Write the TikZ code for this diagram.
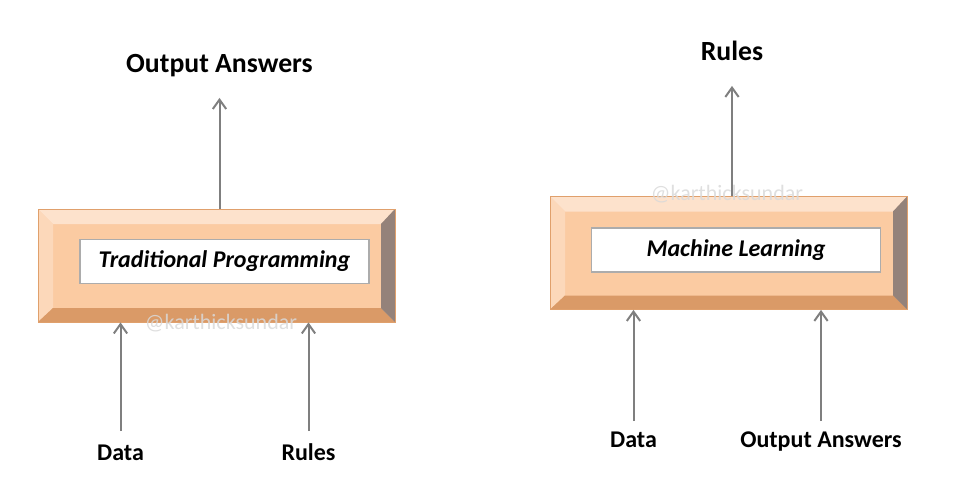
\documentclass[tikz,border=0pt]{standalone}
\usepackage{fontspec}
\setmainfont{Carlito}
\usetikzlibrary{arrows.meta}

\definecolor{bevface}{HTML}{FBCBA2}
\definecolor{bevtop}{HTML}{FDE2CC}
\definecolor{bevleft}{HTML}{FCD8BA}
\definecolor{bevbottom}{HTML}{DA9A67}
\definecolor{bevright}{HTML}{94827A}
\definecolor{bevedge}{HTML}{E0A06C}
\definecolor{arrowgray}{HTML}{7F7F7F}

\begin{document}
\begin{tikzpicture}[x=0.75pt, y=-0.75pt,
  panel/.style = {draw=bevedge, fill=bevface, line width=0.6pt, inner sep=0, minimum width=267.75pt, minimum height=84.75pt,
    path picture={
      \fill[bevtop] (path picture bounding box.north west) -- (path picture bounding box.north east) -- ([shift={(-14,15)}]path picture bounding box.north east) -- ([shift={(15,15)}]path picture bounding box.north west) -- cycle;
      \fill[bevleft] (path picture bounding box.north west) -- ([shift={(15,15)}]path picture bounding box.north west) -- ([shift={(15,-14)}]path picture bounding box.south west) -- (path picture bounding box.south west) -- cycle;
      \fill[bevbottom] (path picture bounding box.south west) -- ([shift={(15,-14)}]path picture bounding box.south west) -- ([shift={(-14,-14)}]path picture bounding box.south east) -- (path picture bounding box.south east) -- cycle;
      \fill[bevright] (path picture bounding box.north east) -- ([shift={(-14,15)}]path picture bounding box.north east) -- ([shift={(-14,-14)}]path picture bounding box.south east) -- (path picture bounding box.south east) -- cycle;
    }},
  tag/.style = {draw=gray!65, fill=white, line width=1pt, inner sep=0, minimum width=216.75pt, minimum height=33pt, font=\fontsize{18}{20}\selectfont\bfseries\itshape},
  toplbl/.style = {anchor=base, inner sep=0, text height=0pt, text depth=0pt, font=\fontsize{20.8}{24}\selectfont\bfseries},
  botlbl/.style = {anchor=base, inner sep=0, text height=0pt, text depth=0pt, font=\fontsize{18}{22}\selectfont\bfseries},
  watermark/.style = {text=gray!30, text opacity=0.85, inner sep=0, font=\fontsize{16.5}{18}\selectfont}]

\useasboundingbox (0,0) rectangle (965,493);

% traditional programming
\node[panel] (tradbox) at (216.5, 265.5) {};
\node[tag] (tradtag) at (224.5, 261.5) {Traditional Programming};
\node[toplbl] (outtop) at (219.5, 72) {Output Answers};
\node[botlbl] (data1) at (120.5, 460) {Data};
\node[botlbl] (rules1) at (308.5, 460) {Rules};
\node[watermark] (wm1) at (221, 323) {@karthicksundar};

% machine learning
\node[panel] (mlbox) at (728.5, 253) {};
\node[tag] (mltag) at (736, 250) {Machine Learning};
\node[toplbl] (rulestop) at (732, 60) {Rules};
\node[botlbl] (data2) at (633.5, 447) {Data};
\node[botlbl] (out2) at (821, 447) {Output Answers};
\node[watermark] (wm2) at (727, 194) {@karthicksundar};

\begin{scope}[color=arrowgray, line width=1.5pt, -{Straight Barb[length=7pt,width=10pt]}]
\path (tradbox.north -| outtop) edge[shorten >=18.75pt] (outtop.south);
\path (data1.north) edge[shorten <=21pt] (data1 |- tradbox.south);
\path (rules1.north) edge[shorten <=21pt] (rules1 |- tradbox.south);
\path (mlbox.north -| rulestop) edge[shorten >=18.75pt] (rulestop.south);
\path (data2.north) edge[shorten <=18.75pt] (data2 |- mlbox.south);
\path (out2.north) edge[shorten <=18.75pt] (out2 |- mlbox.south);
\end{scope}
\end{tikzpicture}
\end{document}
